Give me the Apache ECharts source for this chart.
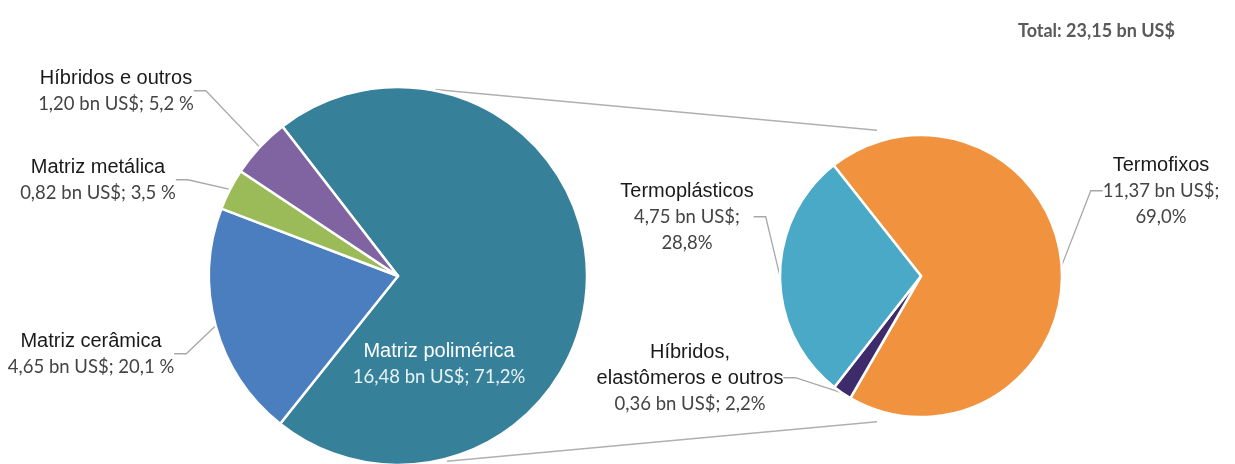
<!DOCTYPE html>
<html lang="pt">
<head>
  <meta charset="UTF-8">
  <title>Compósitos - mercado</title>
  <style>
    html, body { margin: 0; padding: 0; background: #fff; }
    #chart { width: 1235px; height: 464px; }
  </style>
</head>
<body>
<div id="chart"></div>
<script src="https://cdn.jsdelivr.net/npm/echarts@6/dist/echarts.min.js"></script>
<script>
  // dados (bn US$)
  const mainNames = ['Matriz polimérica', 'Matriz cerâmica', 'Matriz metálica', 'Híbridos e outros'];
  const mainValues = [16.48, 4.65, 0.82, 1.20];
  const mainPctSpace = [false, true, true, true]; // "5,2 %" vs "71,2%"
  const subNames = ['Termofixos', 'Híbridos,\nelastômeros e outros', 'Termoplásticos'];
  const subValues = [11.37, 0.36, 4.75];
  const totalText = 'Total: 23,15 bn US$';

  // geometria
  const C1 = [398, 276], R1 = 189;
  const C2 = [921, 276], R2 = 141;
  const mainStart = 127.7, subStart = 128.3;

  // posição das etiquetas (centro do bloco)
  const mainLabelPos = [[439, 364], [91, 354], [98, 180], [116, 91]];
  const subLabelPos = [[1161, 191], [690, 378], [687, 217]];

  const mainColors = ['#37809a', '#4a7ebf', '#9bbb59', '#8064a2'];
  const subColors = ['#f0923e', '#3d2b6b', '#4aa9c6'];

  const fmt = (v, d) => v.toFixed(d).replace('.', ',');
  const sum = a => a.reduce((s, x) => s + x, 0);

  function mainLabel(i) {
    const pct = mainValues[i] / sum(mainValues) * 100;
    return '{t|' + mainNames[i] + '}\n{v|' + fmt(mainValues[i], 2) + ' bn US$; ' +
      fmt(pct, 1) + (mainPctSpace[i] ? ' %' : '%') + '}';
  }
  function subLabel(i) {
    const pct = subValues[i] / sum(subValues) * 100;
    const title = subNames[i].split('\n').map(s => '{t|' + s + '}').join('\n');
    if (i === 1) return title + '\n{v|' + fmt(subValues[i], 2) + ' bn US$; ' + fmt(pct, 1) + '%}';
    return title + '\n{v|' + fmt(subValues[i], 2) + ' bn US$;}\n{v|' + fmt(pct, 1) + '%}';
  }

  const rich = {
    t: { fontFamily: 'Liberation Sans, Arial', fontSize: 20, color: '#1a1a1a', lineHeight: 26 },
    v: { fontFamily: 'Lato', fontSize: 18.5, color: '#444', lineHeight: 26 },
    tw: { fontFamily: 'Liberation Sans, Arial', fontSize: 20, color: '#fff', lineHeight: 26 },
    vw: { fontFamily: 'Lato', fontSize: 18.5, color: '#e8f2f5', lineHeight: 26 }
  };

  const mainData = mainNames.map((n, i) => ({
    name: n, value: mainValues[i],
    itemStyle: { color: mainColors[i] },
    label: i === 0 ? { formatter: () => mainLabel(0).replace('{t|', '{tw|').replace('{v|', '{vw|') } : {},
    labelLine: { show: i !== 0 }
  }));
  const subData = subNames.map((n, i) => ({
    name: n, value: subValues[i],
    itemStyle: { color: subColors[i] }
  }));

  // linhas tangentes entre as duas pizzas
  const th = Math.asin((R1 - R2) / (C2[0] - C1[0]));
  const p1 = [C1[0] + R1 * Math.sin(th), C1[1] - R1 * Math.cos(th)];
  const slope = Math.tan(th);
  const xa = C1[0] + 37, xb = C2[0] - 44;
  const yTop = x => p1[1] + (x - p1[0]) * slope;
  const yBot = x => 2 * C1[1] - yTop(x);

  const chart = echarts.init(document.getElementById('chart'));

  const pieBase = {
    type: 'pie',
    animation: false,
    clockwise: true,
    itemStyle: { borderColor: '#fff', borderWidth: 2.5 },
    label: { show: true, position: 'outside', rich: rich, align: 'center' },
    labelLine: { show: true, length: 10, length2: 12, lineStyle: { color: '#a8a8a8', width: 1.3 } },
    emphasis: { disabled: true }
  };

  chart.setOption({
    backgroundColor: '#fff',
    title: {
      text: totalText, left: 1013, top: 17,
      textStyle: { fontFamily: 'Lato', fontSize: 18, fontWeight: 'bold', color: '#5a5a5a' }
    },
    graphic: [
      { type: 'line', shape: { x1: xa, y1: yTop(xa), x2: xb, y2: yTop(xb) }, style: { stroke: '#b0b0b0', lineWidth: 1.5 }, z: -1 },
      { type: 'line', shape: { x1: xa + 12, y1: yBot(xa + 12), x2: xb, y2: yBot(xb) }, style: { stroke: '#b0b0b0', lineWidth: 1.5 }, z: -1 }
    ],
    series: [
      Object.assign({}, pieBase, {
        name: 'Compósitos',
        center: C1, radius: R1, startAngle: mainStart,
        data: mainData,
        label: Object.assign({}, pieBase.label, { formatter: p => mainLabel(p.dataIndex) }),
        labelLayout: p => ({
          x: mainLabelPos[p.dataIndex][0], y: mainLabelPos[p.dataIndex][1],
          align: 'center', verticalAlign: 'middle'
        })
      }),
      Object.assign({}, pieBase, {
        name: 'Matriz polimérica',
        center: C2, radius: R2, startAngle: subStart,
        data: subData,
        label: Object.assign({}, pieBase.label, { formatter: p => subLabel(p.dataIndex) }),
        labelLayout: p => ({
          x: subLabelPos[p.dataIndex][0], y: subLabelPos[p.dataIndex][1],
          align: 'center', verticalAlign: 'middle'
        })
      })
    ]
  });
</script>
</body>
</html>
